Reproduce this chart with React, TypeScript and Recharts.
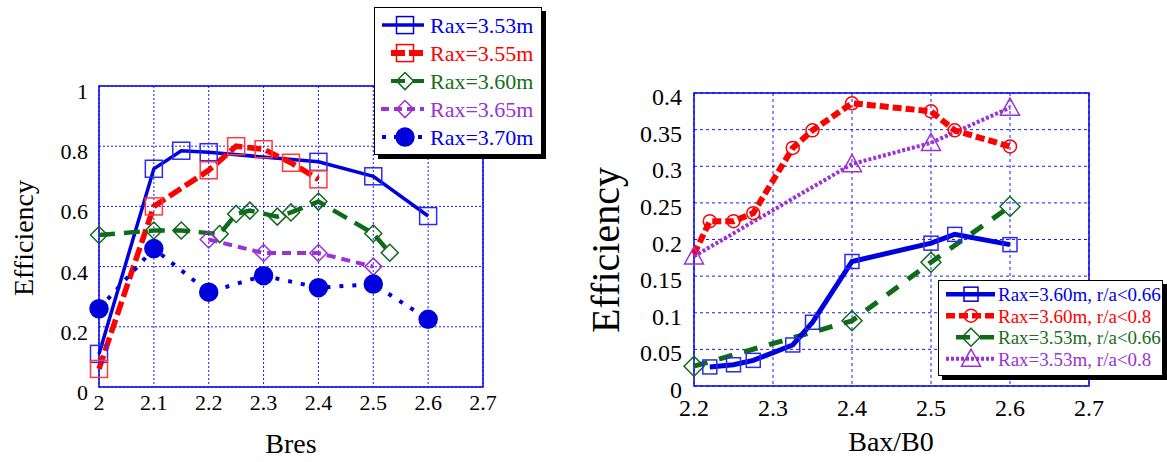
import { CartesianGrid, Line, LineChart, ReferenceArea, XAxis, YAxis } from "recharts";

const SERIF = '"Liberation Serif", "Times New Roman", Times, serif';

// ---- left panel: efficiency vs Bres ----
const bresTicks = [2, 2.1, 2.2, 2.3, 2.4, 2.5, 2.6, 2.7];
const effTicksLeft = [0, 0.2, 0.4, 0.6, 0.8, 1];

const bres353 = [2, 2.1, 2.15, 2.2, 2.4, 2.5, 2.6];
const eff353 = [0.11, 0.725, 0.785, 0.78, 0.748, 0.7, 0.568];

const bres355 = [2, 2.1, 2.2, 2.25, 2.3, 2.35, 2.4];
const eff355 = [0.06, 0.6, 0.72, 0.8, 0.79, 0.745, 0.69];

const bres360 = [2, 2.1, 2.15, 2.22, 2.25, 2.275, 2.325, 2.35, 2.4, 2.5, 2.53];
const eff360 = [0.505, 0.52, 0.52, 0.508, 0.575, 0.586, 0.566, 0.58, 0.616, 0.51, 0.446];

const bres365 = [2.2, 2.3, 2.4, 2.5];
const eff365 = [0.49, 0.445, 0.445, 0.4];

const bres370 = [2, 2.1, 2.2, 2.3, 2.4, 2.5, 2.6];
const eff370 = [0.26, 0.46, 0.315, 0.37, 0.33, 0.342, 0.225];

const leftNames = ["Rax=3.53m", "Rax=3.55m", "Rax=3.60m", "Rax=3.65m", "Rax=3.70m"];

// ---- right panel: efficiency vs Bax/B0 ----
const baxTicks = [2.2, 2.3, 2.4, 2.5, 2.6, 2.7];
const effTicksRight = [0, 0.05, 0.1, 0.15, 0.2, 0.25, 0.3, 0.35, 0.4];

const baxBlue = [2.22, 2.25, 2.275, 2.325, 2.35, 2.4, 2.5, 2.53, 2.6];
const effBlue = [0.026, 0.029, 0.035, 0.056, 0.087, 0.17, 0.195, 0.207, 0.193];

const baxRed = [2.2, 2.22, 2.25, 2.275, 2.325, 2.35, 2.4, 2.5, 2.53, 2.6];
const effRed = [0.18, 0.225, 0.225, 0.236, 0.325, 0.349, 0.386, 0.375, 0.349, 0.327];

const baxGreen = [2.2, 2.4, 2.5, 2.6];
const effGreen = [0.027, 0.089, 0.169, 0.245];

const baxPurple = [2.2, 2.4, 2.5, 2.6];
const effPurple = [0.177, 0.303, 0.332, 0.38];

const rightNames = [
  "Rax=3.60m, r/a<0.66",
  "Rax=3.60m, r/a<0.8",
  "Rax=3.53m, r/a<0.66",
  "Rax=3.53m, r/a<0.8",
];

const zip = (xs: number[], ys: number[]) => xs.map((x, i) => ({ x, y: ys[i] }));

const BLUE = "#0000dd";
const RED = "#ff0000";
const GREEN = "#0f6a1a";
const PURPLE = "#9a32d6";
const GRID = "#1a1aff";

type Shape = "square" | "diamond" | "circle" | "triangle";

const glyph = (shape: Shape, cx: number, cy: number, color: string, size: number, filled: boolean, key?: string) => {
  const h = size / 2;
  const fill = filled ? color : "none";
  const sw = 1.5;
  if (shape === "square")
    return <rect key={key} x={cx - h} y={cy - h} width={size} height={size} fill={fill} stroke={color} strokeWidth={sw} />;
  if (shape === "diamond")
    return (
      <polygon key={key} points={`${cx},${cy - h} ${cx + h},${cy} ${cx},${cy + h} ${cx - h},${cy}`} fill={fill} stroke={color} strokeWidth={sw} />
    );
  if (shape === "triangle")
    return (
      <polygon key={key} points={`${cx},${cy - h} ${cx + h},${cy + h * 0.8} ${cx - h},${cy + h * 0.8}`} fill={fill} stroke={color} strokeWidth={sw} />
    );
  return <circle key={key} cx={cx} cy={cy} r={h} fill={fill} stroke={color} strokeWidth={sw} />;
};

const marker = (shape: Shape, color: string, size: number, filled = false, skip: number[] = []) => (p: any) => {
  const { cx, cy, index } = p;
  const k = `m-${index}`;
  if (cx == null || cy == null || skip.includes(index)) return <g key={k} />;
  return glyph(shape, cx, cy, color, size, filled, k);
};

const yTick = (fs: number, dx: number, dy: number) => (p: any) => (
  <text x={p.x - dx} y={p.y + dy} textAnchor="end" fontSize={fs} fontFamily={SERIF} fill="#000">
    {p.payload.value}
  </text>
);

const xTick = (fs: number, dy: number) => (p: any) => (
  <text x={p.x} y={p.y + dy} textAnchor="middle" fontSize={fs} fontFamily={SERIF} fill="#000">
    {p.payload.value}
  </text>
);

type Entry = { name: string; color: string; text: string; shape: Shape; filled: boolean; w: number; dash?: string; x0: number };

const leftEntries: Entry[] = [
  { name: leftNames[0], color: BLUE, text: "#0000ee", shape: "square", filled: false, w: 3.5, x0: 8 },
  { name: leftNames[1], color: RED, text: "#ff0000", shape: "square", filled: false, w: 6, dash: "14 4", x0: 17 },
  { name: leftNames[2], color: GREEN, text: "#1a6e1a", shape: "diamond", filled: false, w: 4, dash: "14 8", x0: 17 },
  { name: leftNames[3], color: PURPLE, text: "#9a32d6", shape: "diamond", filled: false, w: 4, dash: "8 5", x0: 7 },
  { name: leftNames[4], color: BLUE, text: "#0000ee", shape: "circle", filled: true, w: 4, dash: "4 8", x0: 8 },
];

const rightEntries: Entry[] = [
  { name: rightNames[0], color: BLUE, text: "#0000ee", shape: "square", filled: false, w: 4.5, x0: 8 },
  { name: rightNames[1], color: RED, text: "#ff0000", shape: "circle", filled: false, w: 5.5, dash: "9 4", x0: 8 },
  { name: rightNames[2], color: GREEN, text: "#1a6e1a", shape: "diamond", filled: false, w: 4.5, dash: "14 10", x0: 18 },
  { name: rightNames[3], color: PURPLE, text: "#9a32d6", shape: "triangle", filled: false, w: 4, dash: "3 2", x0: 8 },
];

const LegendBox = ({
  entries, left, top, width, height, fs, rowStep, firstBase, lineEnd, markX, textX, mSizes,
}: {
  entries: Entry[]; left: number; top: number; width: number; height: number; fs: number;
  rowStep: number; firstBase: number; lineEnd: number; markX: number; textX: number; mSizes: number[];
}) => (
  <div
    style={{
      position: "absolute", left, top, width, height, background: "#fff",
      border: "1.5px solid #000", boxShadow: "4px 4px 0 #000", boxSizing: "border-box",
    }}
  >
    <svg width={width} height={height} style={{ position: "absolute", left: -1.5, top: -1.5 }}>
      {entries.map((e, i) => {
        const base = firstBase + i * rowStep;
        const ly = base - fs * 0.36;
        return (
          <g key={e.name}>
            <line x1={e.x0} x2={lineEnd} y1={ly} y2={ly} stroke={e.color} strokeWidth={e.w} strokeDasharray={e.dash} />
            {glyph(e.shape, markX, ly, e.color, mSizes[i], e.filled)}
            <text x={textX} y={base} fontSize={fs} fontFamily={SERIF} fill={e.text}>
              {e.name}
            </text>
          </g>
        );
      })}
    </svg>
  </div>
);

const App = () => {
  return (
    <div style={{ position: "absolute", left: 0, top: 0, width: 1167, height: 462, background: "#fff", fontFamily: SERIF, overflow: "hidden" }}>
      {/* left chart */}
      <div style={{ position: "absolute", left: 0, top: 0 }}>
        <LineChart width={500} height={462} margin={{ top: 86, right: 17, bottom: 45, left: 0 }}>
          <CartesianGrid stroke={GRID} strokeDasharray="2 2" strokeWidth={1} />
          <XAxis
            type="number" dataKey="x" domain={[2, 2.7]} ticks={bresTicks} height={30}
            axisLine={false} tickLine={false} tickSize={0} tickMargin={0} tick={xTick(22, 23)}
          />
          <YAxis
            type="number" dataKey="y" domain={[0, 1]} ticks={effTicksLeft} width={99}
            axisLine={false} tickLine={false} tickSize={0} tickMargin={0} tick={yTick(22, 11, 13)}
          />
          <ReferenceArea x1={2} x2={2.7} y1={0} y2={1} fill="none" stroke="#0000ee" strokeWidth={1.5} />
          <Line data={zip(bres353, eff353)} dataKey="y" type="linear" stroke={BLUE} strokeWidth={3.5} dot={marker("square", "#2b2bf0", 17)} isAnimationActive={false} />
          <Line data={zip(bres355, eff355)} dataKey="y" type="linear" stroke={RED} strokeWidth={5.5} strokeDasharray="14 5" dot={marker("square", "#ff3b3b", 17)} isAnimationActive={false} />
          <Line data={zip(bres360, eff360)} dataKey="y" type="linear" stroke={GREEN} strokeWidth={4.5} strokeDasharray="16 9" dot={marker("diamond", GREEN, 17)} isAnimationActive={false} />
          <Line data={zip(bres365, eff365)} dataKey="y" type="linear" stroke={PURPLE} strokeWidth={4} strokeDasharray="9 6" dot={marker("diamond", PURPLE, 17)} isAnimationActive={false} />
          <Line data={zip(bres370, eff370)} dataKey="y" type="linear" stroke={BLUE} strokeWidth={4} strokeDasharray="4 9" dot={marker("circle", BLUE, 18, true)} isAnimationActive={false} />
        </LineChart>
      </div>
      <div style={{ position: "absolute", left: 10, top: 238, transform: "translate(-50%, -50%) rotate(-90deg)", transformOrigin: "center", fontSize: 28, whiteSpace: "nowrap", lineHeight: 1, marginLeft: 14 }}>
        Efficiency
      </div>
      <div style={{ position: "absolute", left: 291, top: 430, transform: "translateX(-50%)", fontSize: 28, lineHeight: 1 }}>Bres</div>

      {/* right chart */}
      <div style={{ position: "absolute", left: 560, top: 0 }}>
        <LineChart width={607} height={462} margin={{ top: 93, right: 78, bottom: 46, left: 0 }}>
          <CartesianGrid stroke={GRID} strokeDasharray="3 3" strokeWidth={1} />
          <XAxis
            type="number" dataKey="x" domain={[2.2, 2.7]} ticks={baxTicks} height={30}
            axisLine={false} tickLine={false} tickSize={0} tickMargin={0} tick={xTick(24, 30)}
          />
          <YAxis
            type="number" dataKey="y" domain={[0, 0.4]} ticks={effTicksRight} width={134}
            axisLine={false} tickLine={false} tickSize={0} tickMargin={0} tick={yTick(24, 12, 12)}
          />
          <ReferenceArea x1={2.2} x2={2.7} y1={0} y2={0.4} fill="none" stroke="#0000ee" strokeWidth={1.5} />
          <Line data={zip(baxPurple, effPurple)} dataKey="y" type="linear" stroke={PURPLE} strokeWidth={4} strokeDasharray="3 2" dot={marker("triangle", PURPLE, 19)} isAnimationActive={false} />
          <Line data={zip(baxGreen, effGreen)} dataKey="y" type="linear" stroke={GREEN} strokeWidth={5} strokeDasharray="14 12" dot={marker("diamond", GREEN, 20)} isAnimationActive={false} />
          <Line data={zip(baxRed, effRed)} dataKey="y" type="linear" stroke={RED} strokeWidth={6} strokeDasharray="9 4" dot={marker("circle", RED, 13, false, [0])} isAnimationActive={false} />
          <Line data={zip(baxBlue, effBlue)} dataKey="y" type="linear" stroke={BLUE} strokeWidth={5} dot={marker("square", "#2b2bf0", 14)} isAnimationActive={false} />
        </LineChart>
      </div>
      <div style={{ position: "absolute", left: 606, top: 250, transform: "translate(-50%, -50%) rotate(-90deg)", fontSize: 40, whiteSpace: "nowrap", lineHeight: 1 }}>
        Efficiency
      </div>
      <div style={{ position: "absolute", left: 891, top: 428, transform: "translateX(-50%)", fontSize: 28, lineHeight: 1 }}>Bax/B0</div>

      <LegendBox
        entries={leftEntries} left={374} top={7} width={168} height={148} fs={22}
        rowStep={28} firstBase={26} lineEnd={50} markX={31} textX={56} mSizes={[17, 17, 17, 17, 18]}
      />
      <LegendBox
        entries={rightEntries} left={938} top={280} width={225} height={96} fs={19}
        rowStep={21.5} firstBase={21} lineEnd={57} markX={33} textX={60} mSizes={[14, 13, 18, 19]}
      />
    </div>
  );
};

export default App;
